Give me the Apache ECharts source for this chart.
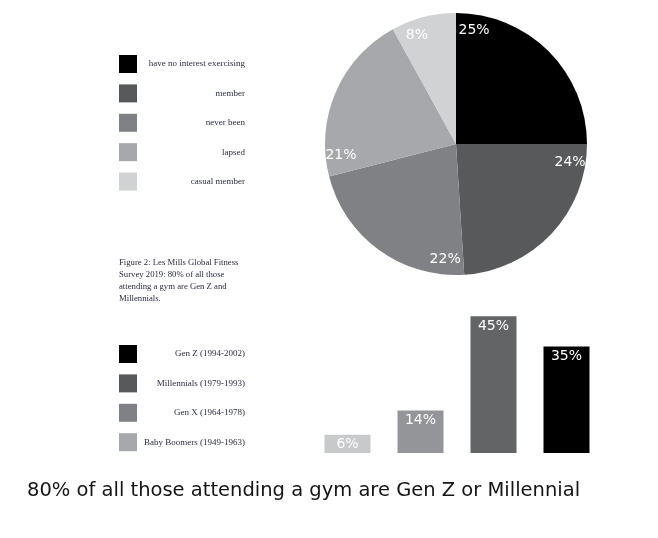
<!DOCTYPE html>
<html>
<head>
<meta charset="utf-8">
<script src="https://cdn.jsdelivr.net/npm/echarts@6/dist/echarts.min.js"></script>
<style>html,body{margin:0;padding:0;background:#fff}#c{width:658px;height:538px}</style>
</head>
<body>
<div id="c"></div>
<script>
// ---- data ----
const pieNames = ['have no interest exercising', 'member', 'never been', 'lapsed', 'casual member'];
const pieValues = [25, 24, 22, 21, 8];
const pieColors = ['#000000', '#58595b', '#808184', '#a7a8ab', '#d1d2d4'];

const barCategories = ['Baby Boomers (1949-1963)', 'Gen X (1964-1978)', 'Millennials (1979-1993)', 'Gen Z (1994-2002)'];
const barValues = [6, 14, 45, 35];
const barColors = ['#c8c9cb', '#939598', '#636466', '#000000'];
const barLegendOrder = ['Gen Z (1994-2002)', 'Millennials (1979-1993)', 'Gen X (1964-1978)', 'Baby Boomers (1949-1963)'];
const barLegendColors = ['#000000', '#58595b', '#808184', '#a7a8ab'];

const caption = 'Figure 2: Les Mills Global Fitness\nSurvey 2019: 80% of all those\nattending a gym are Gen Z and\nMillennials.';
const headline = '80% of all those attending a gym are Gen Z or Millennial';

// ---- style ----
const LABEL_SPAN = 5; // share of each slice used to position its label near the slice start
const serif = 'Liberation Serif';
const sans = 'DejaVu Sans';
const legendTextColor = '#2a2d3e';

const chart = echarts.init(document.getElementById('c'), null, {renderer: 'canvas'});

const pieData = pieNames.map((n, i) => ({name: n, value: pieValues[i], itemStyle: {color: pieColors[i]}}));
const labelData = [];
pieValues.forEach((v, i) => {
  labelData.push({name: 'lbl' + i, value: LABEL_SPAN, label: {show: true, formatter: v + '%'}});
  labelData.push({name: 'rest' + i, value: v - LABEL_SPAN, label: {show: false}});
});

const barSeries = barCategories.map((cat, i) => ({
  name: cat,
  type: 'bar',
  stack: 'gen',
  barWidth: 46,
  data: barCategories.map((c, j) => j === i ? barValues[i] : '-'),
  itemStyle: {color: barColors[i]},
  label: {show: true, position: 'insideTop', distance: 3, color: '#fff', fontFamily: sans, fontSize: 14, formatter: '{c}%'},
  silent: true
}));

const legendCommon = {
  orient: 'vertical', left: 119, padding: 0, itemWidth: 18, itemHeight: 18, itemGap: 11.4, icon: 'rect',
  selectedMode: false,
  formatter: '{t|{name}}',
  textStyle: {rich: {t: {width: 103, align: 'right', fontFamily: serif, fontSize: 9, color: legendTextColor}}}
};

chart.setOption({
  animation: false,
  title: [
    {text: caption, left: 119, top: 257, padding: 0, textStyle: {fontFamily: serif, fontSize: 8.7, fontWeight: 'normal', color: legendTextColor, lineHeight: 12}},
    {text: headline, left: 27, top: 481, padding: 0, textStyle: {fontFamily: sans, fontSize: 19.5, fontWeight: 'normal', color: '#151515'}}
  ],
  legend: [
    Object.assign({}, legendCommon, {top: 55, data: pieNames.map((n, i) => ({name: n, itemStyle: {color: pieColors[i]}}))}),
    Object.assign({}, legendCommon, {top: 345, data: barLegendOrder.map((n, i) => ({name: n, itemStyle: {color: barLegendColors[i]}}))})
  ],
  grid: {left: 311, right: 55, top: 301, bottom: 85},
  xAxis: {type: 'category', data: barCategories, show: false},
  yAxis: {type: 'value', min: 0, max: 50, show: false},
  series: [
    {
      type: 'pie', center: [456, 144], radius: [0, 131], startAngle: 90, clockwise: true,
      data: pieData, label: {show: false}, labelLine: {show: false}, silent: true
    },
    {
      type: 'pie', center: [456, 144], radius: [94, 131], startAngle: 90, clockwise: true,
      data: labelData, silent: true, avoidLabelOverlap: false,
      itemStyle: {color: 'rgba(0,0,0,0)'},
      label: {position: 'inside', rotate: 0, color: '#fff', fontFamily: sans, fontSize: 14},
      labelLine: {show: false}
    }
  ].concat(barSeries)
});
</script>
</body>
</html>
